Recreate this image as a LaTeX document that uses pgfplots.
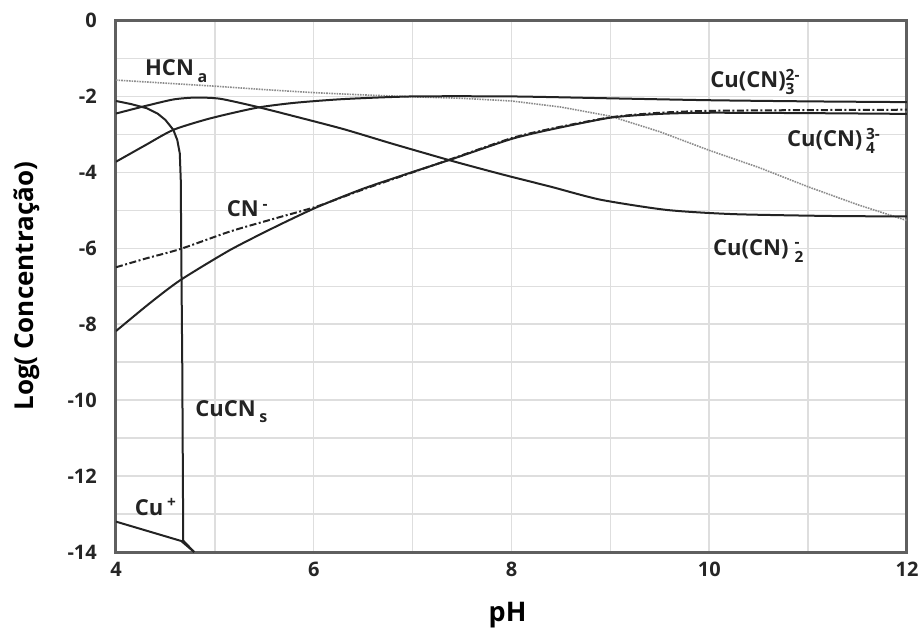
\documentclass[border=0pt]{standalone}
\usepackage{fontspec}
\setmainfont{Open Sans}
\usepackage{amsmath}
\usepackage{pgfplots}
\pgfplotsset{compat=1.18}
\definecolor{gridgray}{RGB}{222,222,222}
\definecolor{framegray}{RGB}{95,95,95}
\definecolor{curve}{RGB}{35,35,35}
\definecolor{hcngray}{RGB}{140,140,140}
\newcommand{\lbl}{\fontsize{22}{24}\selectfont\bfseries}
\newcommand{\sml}{\fontsize{16}{16}\selectfont\bfseries}

\begin{document}
\begin{tikzpicture}
\path[use as bounding box] (0,0) rectangle (924pt,630pt);
\begin{axis}[
  at={(116pt,78pt)}, anchor=south west,
  scale only axis, width=791pt, height=531.5pt,
  xmin=4, xmax=12, ymin=-14, ymax=0,
  xtick={4,6,...,12}, ytick={-14,-12,...,0},
  minor xtick={5,7,9,11}, minor ytick={-13,-11,...,-1},
  grid=both,
  major grid style={gridgray, line width=1.5pt},
  minor grid style={gridgray, line width=1.5pt},
  major tick length=0pt, minor tick length=0pt,
  axis line style={framegray, line width=3pt},
  tick label style={font=\fontsize{20}{22}\selectfont\bfseries, text=black!85},
  /pgf/number format/assume math mode=true,
  xticklabel style={inner sep=0pt, yshift=-10pt},
  yticklabel style={inner sep=0pt, xshift=-19pt},
  xlabel={pH}, ylabel={Log( Concentração)},
  xlabel style={font=\fontsize{27}{30}\selectfont\bfseries, inner sep=0pt,
    at={(axis description cs:0.495,-0.0935)}, anchor=north},
  ylabel style={font=\fontsize{26}{28}\selectfont\bfseries, inner sep=0pt,
    at={(axis description cs:-0.0961,0.5)}, anchor=south},
]
% HCN (aq)
\addplot[hcngray, line width=1.6pt, densely dotted] coordinates {
 (4,-1.57)(4.5,-1.65)(5,-1.73)(5.5,-1.82)(6,-1.9)(6.5,-1.96)(7,-2.01)(7.5,-2.05)
 (8,-2.12)(8.5,-2.28)(9,-2.52)(9.5,-2.93)(10,-3.42)(10.5,-3.87)(11,-4.38)
 (11.5,-4.85)(12,-5.27)};
% Cu(CN)4 3-
\addplot[curve, line width=2pt, smooth, tension=0.4] coordinates {
 (4,-8.18)(4.34,-7.45)(4.65,-6.84)(5.15,-6.05)(5.6,-5.45)(6.03,-4.92)(6.5,-4.43)
 (7,-3.99)(7.4,-3.65)(8,-3.12)(8.4,-2.87)(9,-2.56)(9.5,-2.46)(10,-2.43)
 (11,-2.44)(12,-2.46)};
% CN-
\addplot[curve, line width=2pt, dash pattern=on 7pt off 2.5pt on 2pt off 2.5pt,
  smooth, tension=0.4] coordinates {
 (4,-6.5)(4.3,-6.27)(4.65,-6.02)(5.15,-5.56)(5.6,-5.22)(6.03,-4.9)(6.5,-4.45)
 (7,-4.0)(7.4,-3.64)(8,-3.1)(8.4,-2.85)(9,-2.55)(9.5,-2.43)(10,-2.38)
 (11,-2.36)(12,-2.35)};
% Cu(CN)3 2-
\addplot[curve, line width=2pt, smooth, tension=0.4] coordinates {
 (4,-3.72)(4.3,-3.28)(4.58,-2.88)(4.95,-2.58)(5.42,-2.3)(5.8,-2.17)(6.3,-2.07)
 (7,-2.0)(8,-2.0)(9,-2.05)(10,-2.1)(11,-2.13)(12,-2.15)};
% Cu(CN)2 -
\addplot[curve, line width=2pt, smooth, tension=0.4] coordinates {
 (4,-2.45)(4.3,-2.25)(4.58,-2.08)(4.8,-2.03)(5.05,-2.06)(5.42,-2.27)(5.8,-2.52)
 (6.3,-2.86)(6.8,-3.25)(7.4,-3.7)(7.9,-4.05)(8.4,-4.38)(8.9,-4.72)(9.57,-4.99)
 (10.24,-5.1)(11.25,-5.15)(12,-5.16)};
% CuCN (s)
\addplot[curve, line width=2pt] coordinates {
 (4,-2.12)(4.15,-2.2)(4.31,-2.31)(4.42,-2.45)(4.5,-2.62)(4.58,-2.88)(4.62,-3.15)
 (4.645,-3.5)(4.655,-4.2)(4.66,-6)(4.67,-9)(4.68,-13.7)(4.79,-14)};
% Cu+
\addplot[curve, line width=2pt] coordinates {
 (4,-13.2)(4.66,-13.71)(4.79,-14)};

\begin{scope}[every node/.style={anchor=base west, inner sep=0pt, text=curve, font=\lbl}]
\node at (axis cs:4.293,-1.436) {HCN\,\raisebox{-7pt}{\sml a}};
\node at (axis cs:10.01,-1.778) {Cu(CN)$^{\text{2-}}_{\text{3}}$};
\node at (axis cs:10.786,-3.33) {Cu(CN)\,$^{\text{3-}}_{\text{4}}$};
\node at (axis cs:10.038,-6.18) {Cu(CN)\;$^{\text{-}}_{\text{2}}$};
\node at (axis cs:5.12,-5.17) {CN\,$^{\text{-}}$};
\node at (axis cs:4.8,-10.44) {CuCN\,\raisebox{-6pt}{\sml s}};
\node at (axis cs:4.19,-13.03) {Cu\,$^{\text{+}}$};
\end{scope}
\end{axis}
\end{tikzpicture}
\end{document}
